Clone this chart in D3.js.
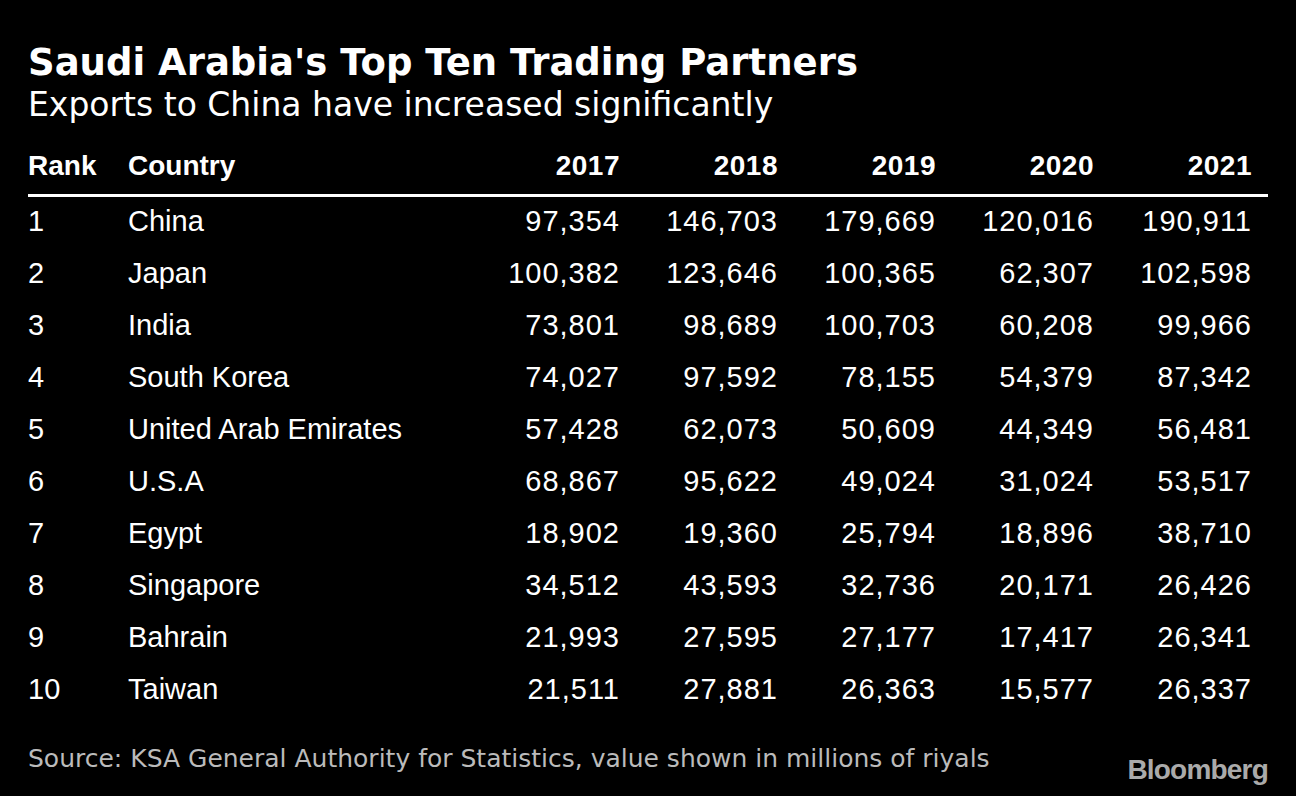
<!DOCTYPE html><html><head><meta charset="utf-8">
<script src="https://cdn.jsdelivr.net/npm/d3@7"></script>
<style>body{margin:0;background:#000}</style></head><body>
<script>
const years=["2017","2018","2019","2020","2021"];
const countries=["China","Japan","India","South Korea","United Arab Emirates","U.S.A","Egypt","Singapore","Bahrain","Taiwan"];
const v2017=[97354,100382,73801,74027,57428,68867,18902,34512,21993,21511];
const v2018=[146703,123646,98689,97592,62073,95622,19360,43593,27595,27881];
const v2019=[179669,100365,100703,78155,50609,49024,25794,32736,27177,26363];
const v2020=[120016,62307,60208,54379,44349,31024,18896,20171,17417,15577];
const v2021=[190911,102598,99966,87342,56481,53517,38710,26426,26341,26337];
const series=[v2017,v2018,v2019,v2020,v2021];
const W=1296,H=796;
const svg=d3.select("body").append("svg").attr("width",W).attr("height",H).style("background","#000");
const f="'Liberation Sans',Arial,sans-serif";
svg.append("text").attr("x",28).attr("y",75).attr("fill","#fff").attr("font-family","'DejaVu Sans',sans-serif").attr("font-weight","bold").attr("font-size",37).text("Saudi Arabia's Top Ten Trading Partners");
svg.append("text").attr("x",28).attr("y",116).attr("fill","#fff").attr("font-family","'DejaVu Sans',sans-serif").attr("font-size",33).text("Exports to China have increased significantly");
const colX=d3.scalePoint().domain(years).range([620,1252]);
const rowY=d3.scaleLinear().domain([0,1]).range([231,283]);
const hy=175;
svg.append("text").attr("x",28).attr("y",hy).attr("fill","#fff").attr("font-family",f).attr("font-weight","bold").attr("font-size",28).text("Rank");
svg.append("text").attr("x",128).attr("y",hy).attr("fill","#fff").attr("font-family",f).attr("font-weight","bold").attr("font-size",28).text("Country");
years.forEach(y=>svg.append("text").attr("x",colX(y)).attr("y",hy).attr("text-anchor","end").attr("fill","#fff").attr("font-family",f).attr("font-weight","bold").attr("font-size",28).attr("letter-spacing",0.5).text(y));
svg.append("rect").attr("x",28).attr("y",194).attr("width",1240).attr("height",3).attr("fill","#fff");
const fmt=d3.format(",");
countries.forEach((c,i)=>{
  const y=rowY(i);
  svg.append("text").attr("x",28).attr("y",y).attr("fill","#fff").attr("font-family",f).attr("font-size",29).text(i+1);
  svg.append("text").attr("x",128).attr("y",y).attr("fill","#fff").attr("font-family",f).attr("font-size",29).text(c);
  years.forEach((yr,j)=>svg.append("text").attr("x",colX(yr)).attr("y",y).attr("text-anchor","end").attr("fill","#fff").attr("font-family",f).attr("font-size",29).attr("letter-spacing",1).text(fmt(series[j][i])));
});
svg.append("text").attr("x",28).attr("y",767).attr("fill","#bbb").attr("font-family","'DejaVu Sans',sans-serif").attr("font-size",25).text("Source: KSA General Authority for Statistics, value shown in millions of riyals");
svg.append("text").attr("x",1268).attr("y",779).attr("text-anchor","end").attr("fill","#aaa").attr("font-family",f).attr("font-weight","bold").attr("font-size",28).attr("letter-spacing",-0.8).text("Bloomberg");
</script></body></html>
